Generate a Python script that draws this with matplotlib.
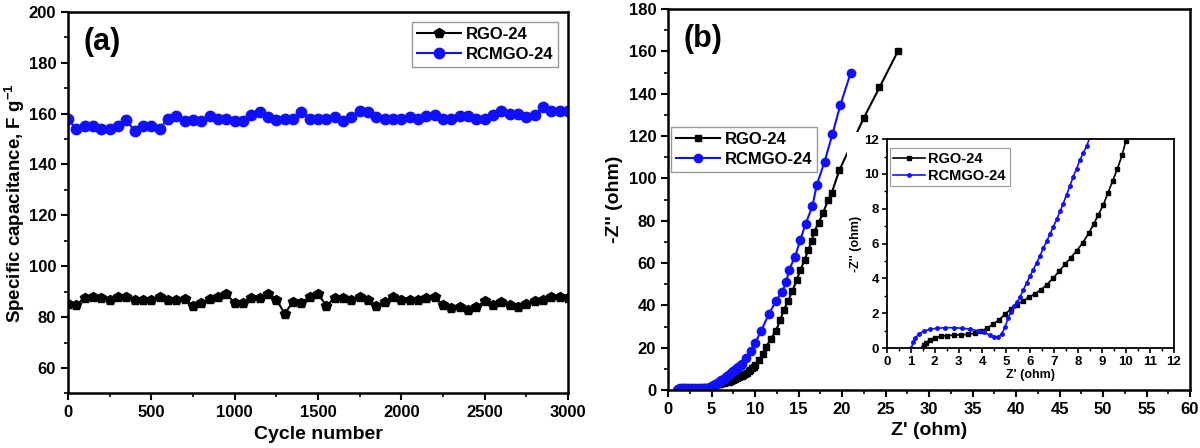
import numpy as np
import matplotlib
matplotlib.use('Agg')
import matplotlib.pyplot as plt
from matplotlib.patches import Rectangle
from matplotlib.ticker import MultipleLocator

plt.rcParams['font.family'] = ['Liberation Sans', 'DejaVu Sans']
plt.rcParams['font.weight'] = 'bold'
plt.rcParams['axes.labelweight'] = 'bold'
plt.rcParams['mathtext.fontset'] = 'custom'
plt.rcParams['mathtext.rm'] = 'Liberation Sans:bold'
plt.rcParams['mathtext.bf'] = 'Liberation Sans:bold'
plt.rcParams['mathtext.default'] = 'bf'

# (a) cycling stability
cycles = np.arange(0, 3001, 50)
rcmgo_cap = [157.7, 154, 155, 155, 154, 154, 155, 157.5, 153, 155, 155, 154, 158, 159, 157,
             157.5, 157, 159, 158, 158, 157, 157, 159.5, 160.5, 158.5, 157.5, 158, 158, 160.5,
             157.7, 157.7, 158, 158.7, 157, 158.5, 161, 160.5, 158.5, 158, 158, 158, 158.5, 158,
             159, 159.5, 157.7, 158, 159, 159, 157.7, 158, 159.5, 161, 160, 160, 158.7, 159.5,
             162.5, 161, 161, 161]
rgo_cap = [85.2, 84.7, 87.7, 88, 87.7, 86.7, 88, 88, 86.7, 86.7, 86.7, 88, 86.7, 86.7, 87.2,
           84.4, 85.7, 87.2, 88, 89.2, 85.4, 85.7, 87.7, 87.7, 89.2, 86.9, 81.4, 86.1, 85.7, 88,
           89.2, 84.4, 87.7, 87.7, 86.7, 88, 86.9, 84.4, 86.1, 88, 86.9, 86.9, 86.9, 87.4, 88,
           84.7, 83.5, 84.1, 82.8, 83.8, 86.4, 84.7, 86.1, 84.7, 83.8, 85.1, 86.4, 86.9, 88, 88,
           87.4]

# (b) Nyquist data
rgo_zre = [1.5, 1.55, 1.65, 1.8, 2.0, 2.25, 2.5, 2.8, 3.1, 3.4, 3.7, 3.95, 4.2, 4.45, 4.7,
           4.95, 5.2, 5.45, 5.7, 5.95, 6.2, 6.45, 6.7, 6.95, 7.2, 7.45, 7.7, 7.95, 8.2, 8.45,
           8.65, 8.85, 9.05, 9.25, 9.45, 9.65, 9.85, 10.0, 10.4, 10.9, 11.3, 11.8, 12.4, 12.9,
           13.3, 13.8, 14.3, 14.8, 15.2, 15.7, 16.1, 16.5, 16.8, 17.3, 17.8, 18.4, 18.8, 19.7,
           22.5, 24.3, 26.4]
rgo_zim = [0, 0.15, 0.32, 0.48, 0.6, 0.68, 0.72, 0.74, 0.76, 0.79, 0.86, 0.98, 1.14, 1.38,
           1.62, 1.95, 2.25, 2.5, 2.7, 2.92, 3.12, 3.35, 3.65, 4.0, 4.4, 4.8, 5.2, 5.6, 6.05,
           6.6, 7.1, 7.65, 8.2, 8.9, 9.6, 10.3, 11.1, 11.9, 14, 17, 20.5, 24, 28, 33, 37.8, 42,
           47, 52, 56.7, 61.5, 66, 70.5, 74.8, 79, 83.5, 89.8, 93, 104, 128.6, 143, 160]
rcmgo_zre = [1.03, 1.1, 1.2, 1.35, 1.55, 1.8, 2.1, 2.45, 2.8, 3.15, 3.5, 3.8, 4.05, 4.3, 4.5,
             4.65, 4.8, 4.95, 5.08, 5.2, 5.32, 5.45, 5.58, 5.71, 5.85, 6.0, 6.13, 6.27, 6.41,
             6.55, 6.69, 6.83, 6.97, 7.11, 7.25, 7.38, 7.52, 7.66, 7.8, 7.94, 8.08, 8.22, 8.36,
             8.5, 9.0, 9.5, 10.0, 10.7, 11.6, 12.4, 13.1, 13.6, 13.9, 14.6, 15.2, 15.8, 16.6,
             17.1, 18.0, 18.9, 19.8, 21.0]
rcmgo_zim = [0, 0.35, 0.6, 0.82, 0.97, 1.08, 1.14, 1.17, 1.17, 1.14, 1.08, 1.0, 0.9, 0.76,
             0.65, 0.63, 0.8, 1.2, 1.75, 2.1, 2.4, 2.62, 2.95, 3.33, 3.75, 4.15, 4.5, 4.9, 5.3,
             5.73, 6.15, 6.55, 6.97, 7.4, 7.85, 8.3, 8.8, 9.3, 9.84, 10.3, 10.8, 11.2, 11.6,
             12.1, 15, 18.5, 22, 28, 36, 42, 46.4, 51, 56.7, 63, 70.9, 78.4, 87, 97, 108, 121,
             134.6, 150]

BLUE = '#1010ff'


def style_axis(ax, size):
    for s in ax.spines.values():
        s.set_linewidth(1.8)
    ax.tick_params(which='major', direction='out', length=5, width=1.5, labelsize=size)
    ax.tick_params(which='minor', direction='out', length=3, width=1.2)
    for lab in ax.get_xticklabels() + ax.get_yticklabels():
        lab.set_fontweight('bold')


fig = plt.figure(figsize=(12, 4.48), dpi=100)

# ---- panel (a)
ax1 = fig.add_axes([0.0567, 0.1217, 0.4167, 0.852])
ax1.plot(cycles, rgo_cap, color='black', marker='p', ms=7.5, lw=1.5, label='RGO-24')
ax1.plot(cycles, rcmgo_cap, color=BLUE, marker='o', ms=7.5, lw=1.5, label='RCMGO-24')
ax1.set_xlim(0, 3000)
ax1.set_ylim(50, 200)
ax1.xaxis.set_major_locator(MultipleLocator(500))
ax1.xaxis.set_minor_locator(MultipleLocator(250))
ax1.yaxis.set_major_locator(MultipleLocator(20))
ax1.yaxis.set_minor_locator(MultipleLocator(10))
ax1.set_yticks([60, 80, 100, 120, 140, 160, 180, 200])
style_axis(ax1, 12)
ax1.set_xlabel('Cycle number', fontsize=14, fontweight='bold')
ax1.set_ylabel('Specific capacitance, F g$^{-1}$', fontsize=13.5, fontweight='bold',
               labelpad=1)
ax1.text(0.03, 0.96, '(a)', transform=ax1.transAxes, fontsize=22, fontweight='bold',
         va='top', ha='left')
leg = ax1.legend(loc='upper right', fancybox=False, edgecolor='gray', handlelength=2.6,
                 prop={'weight': 'bold', 'size': 12}, borderaxespad=0.6, handletextpad=0.3,
                 borderpad=0.3, labelspacing=0.3)
leg.get_frame().set_linewidth(1.0)

# ---- panel (b)
ax2 = fig.add_axes([0.5567, 0.1295, 0.435, 0.850])
ax2.plot(rgo_zre, rgo_zim, color='black', marker='s', ms=5, lw=1.5, label='RGO-24')
ax2.plot(rcmgo_zre, rcmgo_zim, color=BLUE, marker='o', ms=6, lw=1.5, label='RCMGO-24')
ax2.set_xlim(0, 60)
ax2.set_ylim(0, 180)
ax2.xaxis.set_major_locator(MultipleLocator(5))
ax2.xaxis.set_minor_locator(MultipleLocator(2.5))
ax2.yaxis.set_major_locator(MultipleLocator(20))
ax2.yaxis.set_minor_locator(MultipleLocator(10))
style_axis(ax2, 12)
ax2.set_xlabel("Z' (ohm)", fontsize=14, fontweight='bold')
ax2.set_ylabel("-Z'' (ohm)", fontsize=14, fontweight='bold')
ax2.text(0.03, 0.96, '(b)', transform=ax2.transAxes, fontsize=22, fontweight='bold',
         va='top', ha='left')
leg2 = ax2.legend(loc='upper left', bbox_to_anchor=(0.0, 0.70), fancybox=False,
                  edgecolor='gray', handlelength=2.6, prop={'weight': 'bold', 'size': 12},
                  borderaxespad=0.2, handletextpad=0.3, borderpad=0.3, labelspacing=0.3)
leg2.get_frame().set_linewidth(1.0)

# ---- inset
ax3 = fig.add_axes([0.739, 0.223, 0.239, 0.4665])
ax3.add_patch(Rectangle((-0.14, -0.18), 1.17, 1.215, transform=ax3.transAxes,
                        facecolor='white', edgecolor='none', clip_on=False, zorder=-10))
ax3.plot(rgo_zre, rgo_zim, color='black', marker='s', ms=2.5, lw=1.2, label='RGO-24')
ax3.plot(rcmgo_zre, rcmgo_zim, color=BLUE, marker='o', ms=2.5, lw=1.2, label='RCMGO-24')
ax3.set_xlim(0, 12)
ax3.set_ylim(0, 12)
ax3.xaxis.set_major_locator(MultipleLocator(1))
ax3.xaxis.set_minor_locator(MultipleLocator(0.5))
ax3.yaxis.set_major_locator(MultipleLocator(2))
ax3.yaxis.set_minor_locator(MultipleLocator(1))
for s in ax3.spines.values():
    s.set_linewidth(1.3)
ax3.tick_params(which='major', direction='out', length=3.5, width=1.2, labelsize=9.5, pad=2)
ax3.tick_params(which='minor', direction='out', length=2, width=1.0)
for lab in ax3.get_xticklabels() + ax3.get_yticklabels():
    lab.set_fontweight('bold')
ax3.set_xlabel("Z' (ohm)", fontsize=9, fontweight='bold', labelpad=1)
ax3.set_ylabel("-Z'' (ohm)", fontsize=9, fontweight='bold', labelpad=2)
leg3 = ax3.legend(loc='upper left', bbox_to_anchor=(0.0, 0.97), fancybox=False,
                  edgecolor='gray', handlelength=2.2, prop={'weight': 'bold', 'size': 10.5},
                  borderaxespad=0.2, handletextpad=0.2, borderpad=0.25, labelspacing=0.2)
leg3.get_frame().set_linewidth(0.8)

fig.savefig('out.png', dpi=100)
